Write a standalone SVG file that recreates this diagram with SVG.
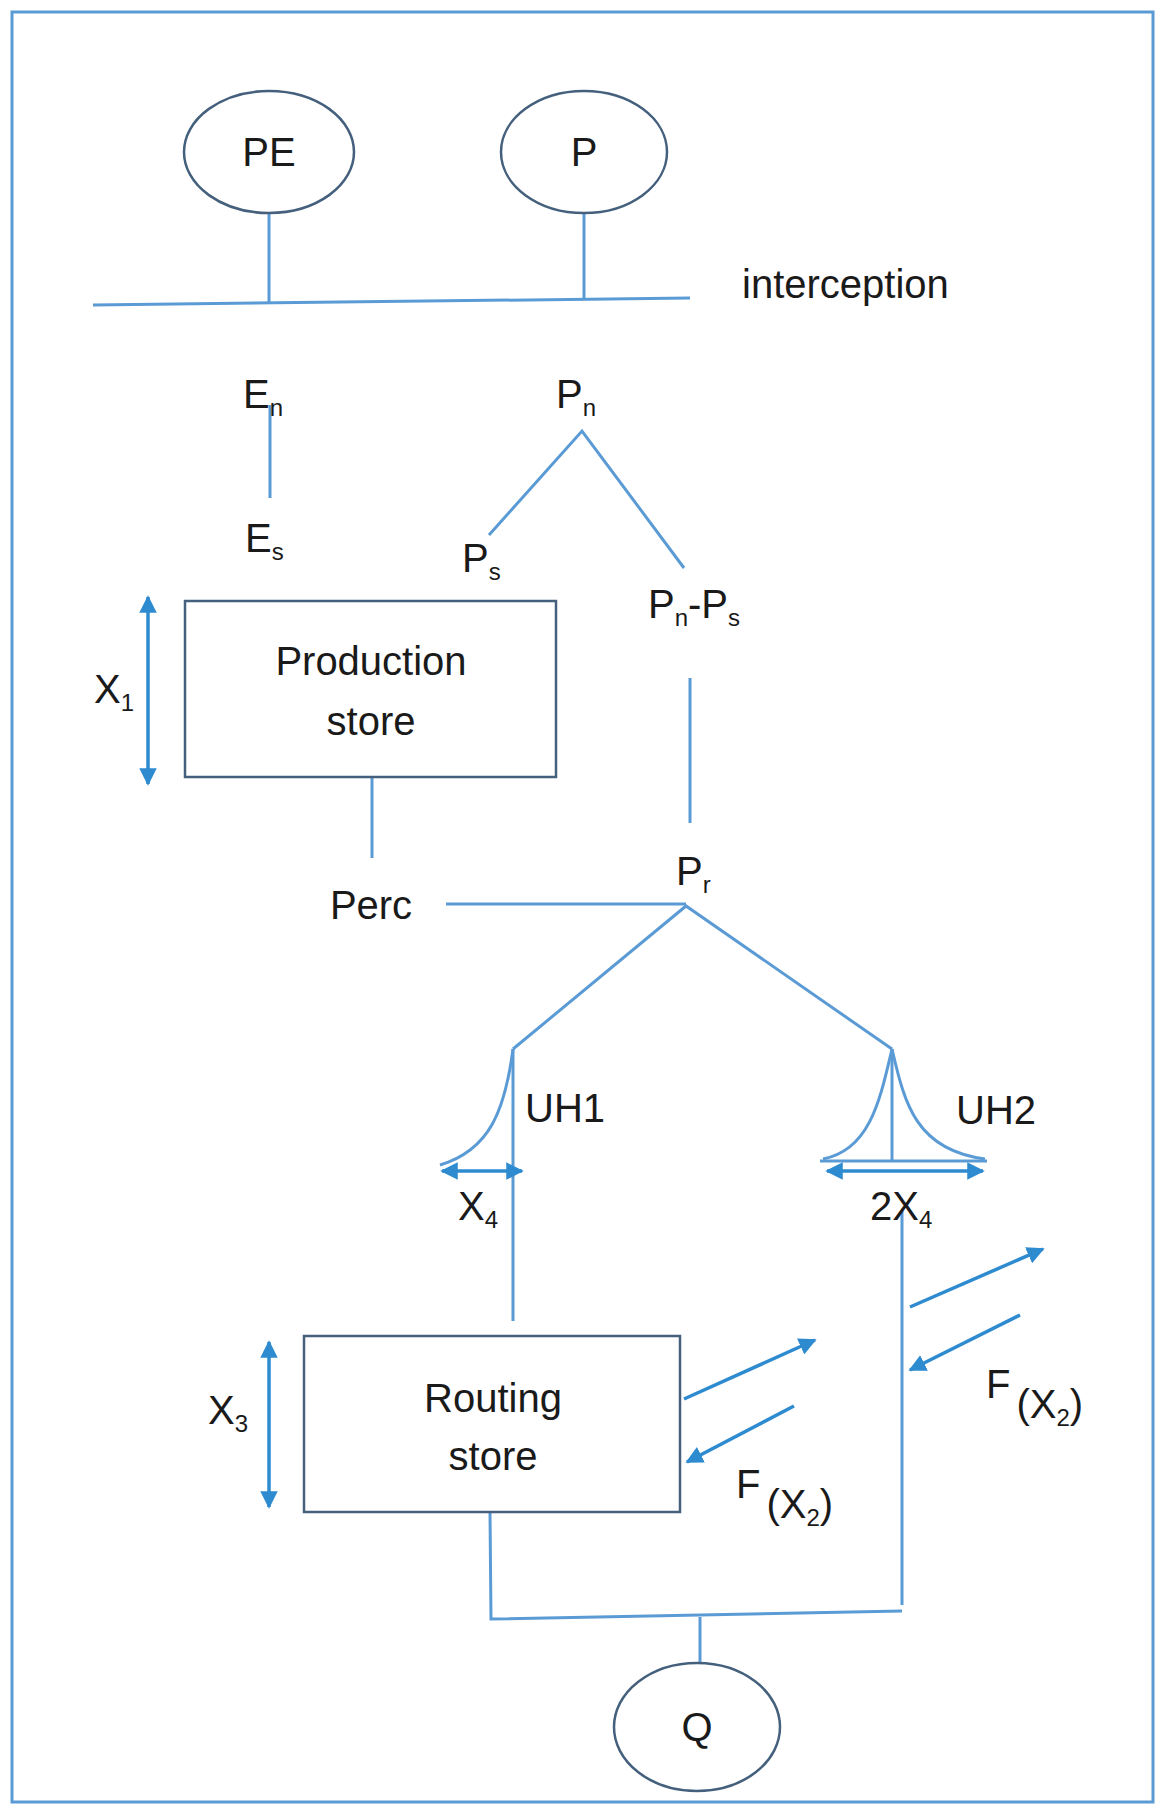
<svg xmlns="http://www.w3.org/2000/svg" width="1171" height="1819" viewBox="0 0 1171 1819">
<style>
.ln{stroke:#5b9bd5;stroke-width:3;fill:none}
.ar{stroke:#2e8bd0;stroke-width:3.5;fill:none}
.nd{stroke:#44607c;stroke-width:2.5;fill:#fff}
text{font-family:"Liberation Sans",Arial,sans-serif;fill:#1a1a1a;font-size:40px}
.m{text-anchor:middle}
.s{font-size:24px}
</style>
<defs>
<marker id="ah" viewBox="0 0 10 10" refX="9" refY="5" markerWidth="5" markerHeight="5" orient="auto-start-reverse" markerUnits="strokeWidth"><path d="M0,0L10,5L0,10z" fill="#2e8bd0"/></marker>
</defs>
<rect x="12" y="12" width="1141" height="1790" fill="#fff" stroke="#5b9bd5" stroke-width="3"/>
<g id="connectors">
<line class="ln" x1="269" y1="214" x2="269" y2="304"/>
<line class="ln" x1="584" y1="214" x2="584" y2="299"/>
<line class="ln" x1="93" y1="305" x2="690" y2="298"/>
<line class="ln" x1="270" y1="405" x2="270" y2="498"/>
<polyline class="ln" points="489,535 582,431 684,568"/>
<line class="ln" x1="690" y1="678" x2="690" y2="823"/>
<line class="ln" x1="372" y1="777" x2="372" y2="858"/>
<line class="ln" x1="446" y1="904" x2="686" y2="904"/>
<polyline class="ln" points="513,1049 686,906 892,1049"/>
<line class="ln" x1="513" y1="1049" x2="513" y2="1321"/>
<path class="ln" d="M513,1049 C505,1110 490,1150 440,1165"/>
<line class="ar" x1="442" y1="1171" x2="522" y2="1171" marker-start="url(#ah)" marker-end="url(#ah)"/>
<line class="ln" x1="892" y1="1049" x2="892" y2="1161"/>
<path class="ln" d="M823,1159 C870,1150 880,1100 892,1049 C904,1100 914,1150 985,1159"/>
<line class="ln" x1="820" y1="1161" x2="987" y2="1161"/>
<line class="ar" x1="827" y1="1171" x2="983" y2="1171" marker-start="url(#ah)" marker-end="url(#ah)"/>
<line class="ln" x1="902" y1="1211" x2="902" y2="1605"/>
<line class="ar" x1="148" y1="597" x2="148" y2="784" marker-start="url(#ah)" marker-end="url(#ah)"/>
<line class="ar" x1="269" y1="1342" x2="269" y2="1507" marker-start="url(#ah)" marker-end="url(#ah)"/>
<line class="ar" x1="684" y1="1399" x2="815" y2="1340" marker-end="url(#ah)"/>
<line class="ar" x1="794" y1="1406" x2="687" y2="1462" marker-end="url(#ah)"/>
<line class="ar" x1="910" y1="1307" x2="1043" y2="1249" marker-end="url(#ah)"/>
<line class="ar" x1="1020" y1="1315" x2="910" y2="1370" marker-end="url(#ah)"/>
<polyline class="ln" points="490,1512 491,1619 902,1611"/>
<line class="ln" x1="700" y1="1617" x2="700" y2="1665"/>
</g>
<g id="PE"><ellipse class="nd" cx="269" cy="152" rx="85" ry="61"/><text class="m" x="269" y="166">PE</text></g>
<g id="P"><ellipse class="nd" cx="584" cy="152" rx="83" ry="61"/><text class="m" x="584" y="166">P</text></g>
<g id="Q"><ellipse class="nd" cx="697" cy="1727" rx="83" ry="64"/><text class="m" x="697" y="1741">Q</text></g>
<g id="production"><rect class="nd" x="185" y="601" width="371" height="176"/><text class="m" x="371" y="675">Production</text><text class="m" x="371" y="735">store</text></g>
<g id="routing"><rect class="nd" x="304" y="1336" width="376" height="176"/><text class="m" x="493" y="1412">Routing</text><text class="m" x="493" y="1470">store</text></g>
<g id="labels">
<text x="742" y="298">interception</text>
<text x="243" y="408">E<tspan class="s" dy="8">n</tspan></text>
<text x="245" y="552">E<tspan class="s" dy="8">s</tspan></text>
<text x="556" y="408">P<tspan class="s" dy="8">n</tspan></text>
<text x="462" y="572">P<tspan class="s" dy="8">s</tspan></text>
<text x="648" y="618">P<tspan class="s" dy="8">n</tspan><tspan dy="-8">-P</tspan><tspan class="s" dy="8">s</tspan></text>
<text x="94" y="703">X<tspan class="s" dy="8">1</tspan></text>
<text class="m" x="371" y="919">Perc</text>
<text x="676" y="885">P<tspan class="s" dy="8">r</tspan></text>
<text x="525" y="1122">UH1</text>
<text x="956" y="1124">UH2</text>
<text x="458" y="1220">X<tspan class="s" dy="8">4</tspan></text>
<text x="870" y="1220">2X<tspan class="s" dy="8">4</tspan></text>
<text x="208" y="1424">X<tspan class="s" dy="8">3</tspan></text>
<text x="736" y="1498">F<tspan dx="6" dy="20">(X</tspan><tspan class="s" dy="8">2</tspan><tspan dy="-8">)</tspan></text>
<text x="986" y="1398">F<tspan dx="6" dy="20">(X</tspan><tspan class="s" dy="8">2</tspan><tspan dy="-8">)</tspan></text>
</g>
</svg>
